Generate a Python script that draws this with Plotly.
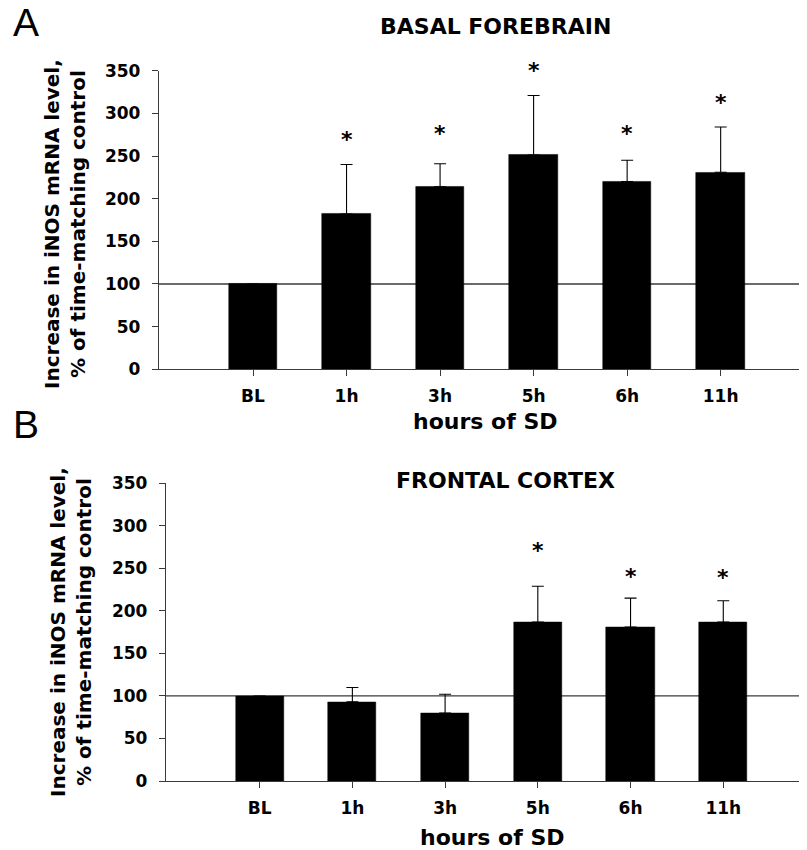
import plotly.graph_objects as go

# ---- data ----
categories = ["BL", "1h", "3h", "5h", "6h", "11h"]
y_ticks = [0, 50, 100, 150, 200, 250, 300, 350]
y_max = 350

bf_values = [100, 182, 214, 251, 220, 231]      # basal forebrain
bf_errors = [0, 58, 27, 70, 25, 53]
bf_star_y = [None, 271, 277, 351, 277, 314]

fc_values = [100, 93, 80, 187, 181, 187]        # frontal cortex
fc_errors = [0, 17, 22, 42, 34, 25]
fc_star_y = [None, None, None, 272, 242, 240]

reference_level = 100

# page has an 8px body margin, so the figure is drawn from (8, 8)
OFF = 8
PAGE_W, PAGE_H = 807, 850
W, H = PAGE_W - OFF, PAGE_H - OFF
FONT = "DejaVu Sans"
AXIS_COLOR = "#3a3a3a"

def px(x):
    return (x - OFF) / W

def py(y):
    return 1 - (y - OFF) / H

xpos = list(range(len(categories)))

fig = go.Figure()

panels = [
    dict(vals=bf_values, errs=bf_errors, stars=bf_star_y, xa="x", ya="y"),
    dict(vals=fc_values, errs=fc_errors, stars=fc_star_y, xa="x2", ya="y2"),
]

for p in panels:
    fig.add_shape(type="line", xref=p["xa"] + " domain", yref=p["ya"],
                  x0=0, x1=1, y0=reference_level, y1=reference_level,
                  line=dict(color=AXIS_COLOR, width=1.3), layer="below")
    fig.add_trace(go.Bar(
        x=xpos, y=p["vals"], xaxis=p["xa"], yaxis=p["ya"],
        width=0.52,
        marker=dict(color="black", line=dict(color="black", width=0.5)),
        error_y=dict(type="data", symmetric=False, array=p["errs"],
                     arrayminus=[0] * len(p["errs"]),
                     color="black", thickness=1.1, width=6),
        showlegend=False, hoverinfo="skip",
    ))
    for xi, s in zip(xpos, p["stars"]):
        if s is None:
            continue
        fig.add_annotation(x=xi, y=s / y_max, xref=p["xa"], yref=p["ya"] + " domain",
                           text="*", showarrow=False, xanchor="center", yanchor="middle",
                           yshift=-1,
                           font=dict(family=FONT, size=22, color="black", weight="bold"))

tickfont = dict(family=FONT, size=17, color="black", weight="bold")

common_x = dict(tickmode="array", tickvals=xpos, ticktext=categories,
                showline=True, linecolor=AXIS_COLOR, linewidth=1.3,
                ticks="outside", ticklen=6, tickcolor=AXIS_COLOR, tickwidth=1.2,
                showgrid=False, zeroline=False, tickfont=tickfont,
                ticklabelstandoff=5, automargin=False, fixedrange=True)
common_y = dict(tickmode="array", tickvals=y_ticks, range=[0, y_max],
                showline=True, linecolor=AXIS_COLOR, linewidth=1.3,
                ticks="outside", ticklen=6, tickcolor=AXIS_COLOR, tickwidth=1.2,
                showgrid=False, zeroline=False, tickfont=tickfont,
                ticklabelstandoff=8, automargin=False, fixedrange=True)

fig.update_layout(
    width=W, height=H,
    margin=dict(l=0, r=0, t=0, b=0),
    paper_bgcolor="white", plot_bgcolor="white",
    bargap=0,
    xaxis=dict(domain=[px(159), 1], range=[-1.005, 5.923], anchor="y", **common_x),
    yaxis=dict(domain=[py(369.3), py(70.7)], anchor="x", **common_y),
    xaxis2=dict(domain=[px(166), 1], range=[-1.01, 5.903], anchor="y2", **common_x),
    yaxis2=dict(domain=[py(781), py(483.3)], anchor="x2", **common_y),
)

title_font = dict(family=FONT, size=22, color="black", weight="bold")
ytitle_font = dict(family=FONT, size=20, color="black", weight="bold")
letter_font = dict(family="Liberation Sans", size=39, color="black")

texts = [
    ("A", 26, 23, letter_font, 0),
    ("B", 26, 424, letter_font, 0),
    ("BASAL FOREBRAIN", 495, 27, title_font, 0),
    ("FRONTAL CORTEX", 505, 480, title_font, 0),
    ("hours of SD", 486, 421, title_font, 0),
    ("hours of SD", 492, 837, title_font, 0),
    ("Increase in iNOS mRNA level,<br>% of time-matching control", 65, 224, ytitle_font, -90),
    ("Increase in iNOS mRNA level,<br>% of time-matching control", 71, 632, ytitle_font, -90),
]
for t, x, y, f, ang in texts:
    fig.add_annotation(x=px(x), y=py(y), xref="paper", yref="paper", text=t,
                       showarrow=False, xanchor="center", yanchor="middle",
                       textangle=ang, font=f)

fig.write_html("out.html")
